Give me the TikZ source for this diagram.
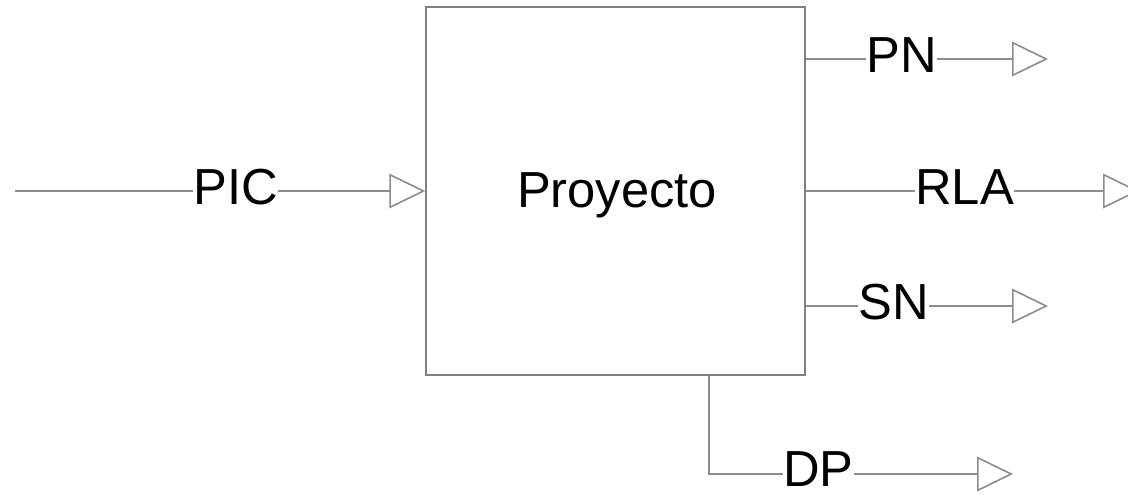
\documentclass[tikz,border=0pt]{standalone}
\usepackage{fontspec}
\setmainfont{Liberation Sans}
\usetikzlibrary{arrows.meta}
\definecolor{ln}{RGB}{128,128,128}
\definecolor{wr}{RGB}{140,140,140}
\begin{document}
\begin{tikzpicture}[x=0.75pt,y=-0.75pt,
  wire/.style={draw=wr, line width=1.2pt},
  flow/.style={wire, -{Triangle[open,length=27pt,width=26pt]}},
  lbl/.style={inner sep=0pt, anchor=west, font=\fontsize{38}{45}\selectfont},
  blk/.style={draw=ln, line width=1.1pt, minimum width=284.25pt, minimum height=276pt, inner sep=0pt}]
\useasboundingbox (0,0) rectangle (1128,494);
% box
\node[blk] (box) at (615.5,191) {};
\node[lbl, anchor=base] (ptxt) at (617,207) {Proyecto};
% input PIC
\coordinate (picS) at (15,191);
\node[lbl] (pic) at (193,187) {PIC};
\draw[wire] (picS) -- (pic.west |- picS);
\draw[flow] (pic.east |- picS) -- (box.west |- picS);
% PN
\coordinate (pnS) at (box.east |- 0,59);
\node[lbl] (pn) at (866,55.5) {PN};
\coordinate (pnE) at (1048,59);
\draw[wire] (pnS) -- (pn.west |- pnS);
\draw[flow] (pn.east |- pnS) -- (pnE);
% RLA
\coordinate (rlaS) at (box.east |- 0,191);
\node[lbl] (rla) at (915,187) {RLA};
\coordinate (rlaE) at (1139,191);
\draw[wire] (rlaS) -- (rla.west |- rlaS);
\draw[flow] (rla.east |- rlaS) -- (rlaE);
% SN
\coordinate (snS) at (box.east |- 0,306);
\node[lbl] (sn) at (858,302) {SN};
\coordinate (snE) at (1048,306);
\draw[wire] (snS) -- (sn.west |- snS);
\draw[flow] (sn.east |- snS) -- (snE);
% DP
\coordinate (dpS) at (box.south -| 709,0);
\coordinate (dpC) at (709,474);
\node[lbl] (dp) at (783,469) {DP};
\coordinate (dpE) at (1013,474);
\draw[wire] (dpS) -- (dpC) -- (dp.west |- dpC);
\draw[flow] (dp.east |- dpC) -- (dpE);
\end{tikzpicture}
\end{document}
